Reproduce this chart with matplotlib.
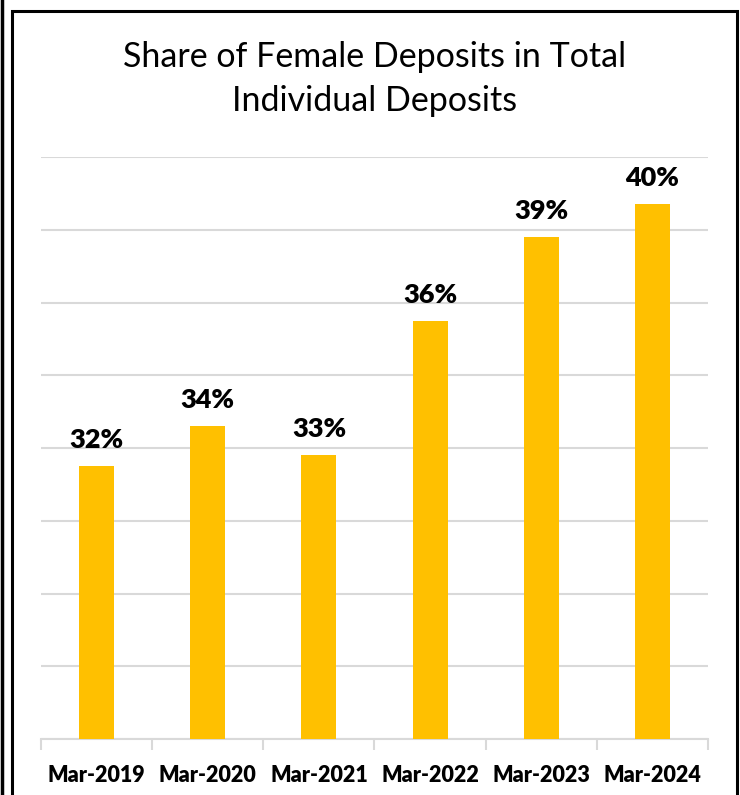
import matplotlib.pyplot as plt
from matplotlib.patches import Rectangle
from matplotlib.lines import Line2D

# data
periods = ['Mar-2019', 'Mar-2020', 'Mar-2021', 'Mar-2022', 'Mar-2023', 'Mar-2024']
share = [32.5, 33.6, 32.8, 36.5, 38.8, 39.7]
share_labels = ['32%', '34%', '33%', '36%', '39%', '40%']

bar_color = '#FFC000'
grid_color = '#D9D9D9'

plt.rcParams['font.family'] = ['Lato', 'DejaVu Sans']

fig = plt.figure(figsize=(7.4, 7.95), dpi=100)
ax = fig.add_axes([41/740, 1-739/795, (708-41)/740, (739-157)/795])

x = list(range(len(periods)))
ax.bar(x, share, width=0.315, color=bar_color, zorder=3)

for xi, v, lab in zip(x, share, share_labels):
    ax.annotate(lab, (xi, v), xytext=(0, 10), textcoords='offset points',
                ha='center', va='bottom', fontsize=19.5, fontweight='heavy', color='black')

ax.set_xlim(-0.5, len(periods) - 0.5)
ax.set_ylim(25, 41)
ax.set_yticks(range(25, 42, 2))
ax.yaxis.grid(True, color=grid_color, linewidth=1.5, zorder=0)
ax.tick_params(axis='y', left=False, labelleft=False)

ax.set_xticks(x)
ax.set_xticklabels(periods, fontsize=15.5, fontweight='heavy')
ax.set_xticks([i - 0.5 for i in range(len(periods) + 1)], minor=True)
ax.tick_params(axis='x', which='major', length=0, pad=19)
ax.tick_params(axis='x', which='minor', length=8, width=1.5, color=grid_color)

for s in ['top', 'right', 'left']:
    ax.spines[s].set_visible(False)
ax.spines['bottom'].set_color(grid_color)
ax.spines['bottom'].set_linewidth(1.5)

fig.text(375/740, 1-79/795, 'Share of Female Deposits in Total\nIndividual Deposits',
         ha='center', va='center', fontsize=24.5, linespacing=1.45)

# outer frame
fig.patches.append(Rectangle((12/740, -0.05), (737-12)/740, 1.05-11/795,
                             transform=fig.transFigure, fill=False,
                             edgecolor='black', linewidth=2.2))
fig.lines.append(Line2D([1.5/740, 1.5/740], [0, 1], transform=fig.transFigure,
                        color='black', linewidth=2.5))

fig.savefig('out.png', dpi=100)
